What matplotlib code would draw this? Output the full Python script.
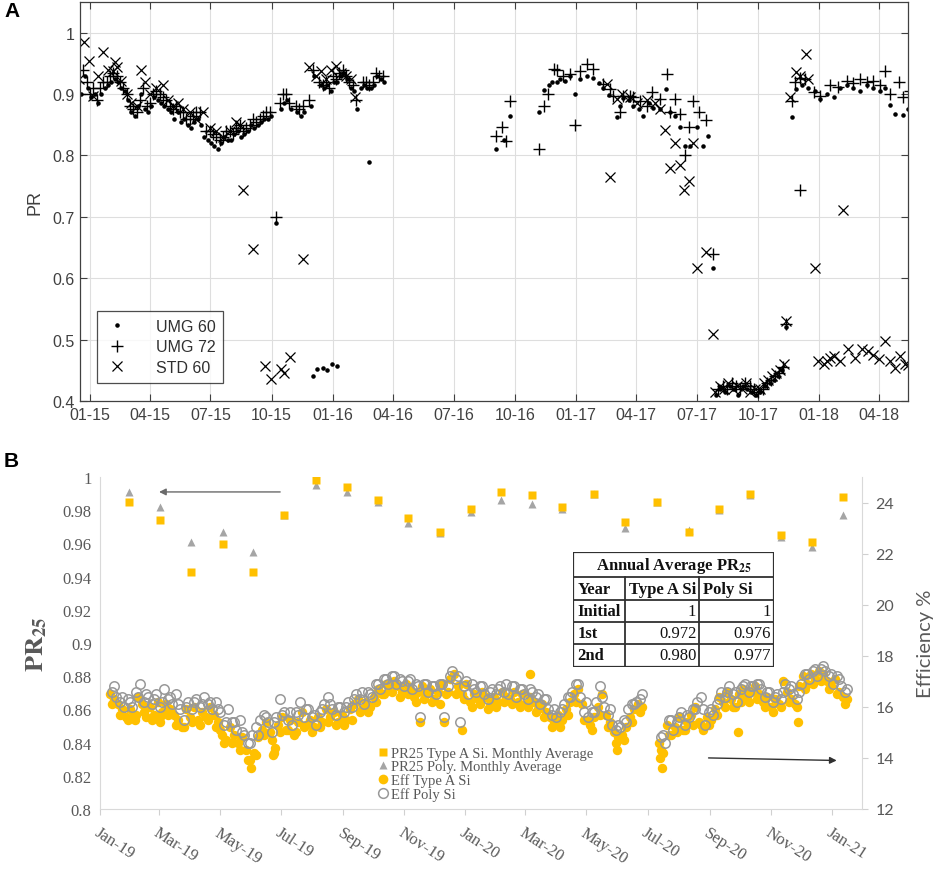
import numpy as np
import pandas as pd
import matplotlib
matplotlib.use('Agg')
import matplotlib.pyplot as plt
import matplotlib.dates as mdates
from matplotlib.lines import Line2D
from matplotlib.patches import Rectangle

plt.rcParams['font.family'] = 'Liberation Sans'
plt.rcParams['mathtext.fontset'] = 'stix'

# ---------------- panel A: PR, days counted from 01-Jan-2015 ----------------
umg60_day = [-14, -8, -3, 2, 7, 12, 17, 22, 27, 32, 37, 42, 47, 52, 57, 62, 67, 72, 77, 82,
             87, 92, 97, 102, 107, 112, 117, 122, 127, 132, 137, 142, 147, 152, 157, 162, 167,
             172, 177, 182, 187, 192, 197, 202, 207, 212, 217, 222, 227, 232, 237, 242, 247,
             252, 257, 262, 267, 272, 280, 287, 292, 297, 302, 312, 317, 322, 332, 337, 347,
             352, 357, 362, 367, 372, 377, 382, 387, 392, 397, 402, 407, 412, 417, 420, 422,
             427, 432, 437, 442,
             335, 342, 350, 357, 364, 372,
             610, 622, 632, 675, 682, 690, 695, 702, 707, 715, 722, 730, 737, 747, 757, 765,
             772, 780, 792, 797, 802, 810, 817, 825, 832, 840, 847, 857, 866, 872, 880, 887,
             895, 902, 912, 922, 930, 937,
             942, 948, 955, 962, 968, 975, 982, 988, 995, 1002, 1008, 1015, 1022, 1028, 1034,
             1040, 1047,
             1055, 1062, 1070, 1080, 1090, 1098, 1108, 1118, 1128, 1138, 1148, 1158, 1168,
             1178, 1188, 1196, 1203, 1211, 1223, 1230]
umg60_pr = [0.90, 0.93, 0.91, 0.895, 0.90, 0.885, 0.90, 0.91, 0.915, 0.92,
            0.925, 0.92, 0.91, 0.905, 0.89, 0.87, 0.865, 0.88, 0.90, 0.875,
            0.87, 0.88, 0.895, 0.89, 0.885, 0.88, 0.875, 0.87, 0.86, 0.87,
            0.855, 0.86, 0.85, 0.845, 0.855, 0.86, 0.85, 0.83, 0.825, 0.82,
            0.815, 0.81, 0.82, 0.83, 0.825, 0.825, 0.835, 0.84, 0.83, 0.835,
            0.84, 0.85, 0.845, 0.85, 0.855, 0.86, 0.86, 0.865, 0.69, 0.875,
            0.885, 0.89, 0.875, 0.87, 0.865, 0.87, 0.88, 0.93, 0.915, 0.91,
            0.915, 0.905, 0.92, 0.92, 0.93, 0.935, 0.925, 0.91, 0.905, 0.875,
            0.91, 0.915, 0.91, 0.79, 0.91, 0.915, 0.93, 0.925, 0.92,
            0.44, 0.452, 0.454, 0.451, 0.46, 0.457,
            0.811, 0.825, 0.865, 0.87, 0.907, 0.915, 0.919, 0.92, 0.924, 0.922,
            0.93, 0.90, 0.925, 0.929, 0.927, 0.918, 0.91, 0.898, 0.862, 0.88,
            0.893, 0.89, 0.88, 0.875, 0.865, 0.885, 0.878, 0.875, 0.909, 0.87,
            0.865, 0.847, 0.816, 0.816, 0.846, 0.816, 0.832, 0.617,
            0.41, 0.42, 0.415, 0.425, 0.42, 0.41, 0.425, 0.42, 0.415, 0.41, 0.415, 0.425,
            0.43, 0.435, 0.44, 0.45, 0.52,
            0.862, 0.908, 0.915, 0.91, 0.905, 0.892, 0.90, 0.895, 0.91, 0.915,
            0.91, 0.905, 0.915, 0.91, 0.905, 0.91, 0.882, 0.867, 0.866, 0.876]

umg72_day = [-16, -10, -5, 0, 5, 10, 15, 20, 25, 30, 35, 40, 45, 50, 55, 60, 65, 70, 75, 80,
             85, 90, 95, 100, 105, 110, 115, 120, 125, 130, 135, 140, 145, 150, 155, 160, 165,
             175, 180, 185, 190, 195, 200, 205, 210, 215, 220, 225, 230, 235, 240, 245, 250,
             255, 260, 265, 270, 279, 285, 290, 295, 300, 310, 315, 320, 330, 335, 345, 350,
             355, 360, 365, 370, 375, 380, 385, 390, 395, 400, 410, 415, 420, 425, 430, 435, 440,
             611, 619, 626, 632, 675, 682, 688, 697, 702, 712, 722, 730, 737, 747, 757, 772,
             782, 787, 797, 802, 812, 817, 827, 837, 845, 857, 867, 872, 880, 887, 895, 900,
             907, 915, 927, 937,
             945, 952, 958, 965, 972, 978, 985, 992, 998, 1005, 1012, 1018, 1024, 1030, 1036,
             1042, 1047,
             1055, 1060, 1067, 1067, 1075, 1088, 1098, 1113, 1125, 1138, 1148, 1158, 1168,
             1178, 1188, 1196, 1203, 1216, 1223, 1233]
umg72_pr = [0.90, 0.94, 0.92, 0.90, 0.91,
            0.89, 0.91, 0.92, 0.92, 0.93, 0.935, 0.93, 0.92, 0.91, 0.90,
            0.88, 0.875, 0.87, 0.89, 0.91, 0.88, 0.885, 0.90, 0.905, 0.90,
            0.895, 0.89, 0.88, 0.875, 0.88, 0.87, 0.87, 0.86, 0.86, 0.865,
            0.87, 0.87,
            0.84, 0.84, 0.835, 0.83, 0.825, 0.83, 0.84, 0.84, 0.835, 0.845,
            0.85, 0.84, 0.845, 0.85, 0.86, 0.855, 0.86, 0.865, 0.87, 0.87,
            0.70, 0.885, 0.90, 0.90, 0.885, 0.88, 0.875, 0.88, 0.89, 0.94,
            0.92, 0.915, 0.92, 0.91, 0.93, 0.925, 0.935, 0.94, 0.93, 0.92, 0.915, 0.89,
            0.92, 0.92, 0.915, 0.92, 0.935, 0.93, 0.93,
            0.831, 0.846, 0.824, 0.889, 0.81, 0.881, 0.90, 0.941, 0.94, 0.93,
            0.932, 0.849, 0.938, 0.949, 0.941, 0.916, 0.908, 0.897, 0.87, 0.897,
            0.897, 0.895, 0.889, 0.881, 0.903, 0.892, 0.933, 0.87, 0.892, 0.867,
            0.80, 0.846, 0.889, 0.87, 0.857, 0.639,
            0.42, 0.425, 0.42, 0.43, 0.425, 0.42, 0.43, 0.425, 0.42, 0.415, 0.42, 0.43,
            0.435, 0.44, 0.445, 0.455, 0.525,
            0.889, 0.919, 0.927, 0.743, 0.925, 0.903, 0.897, 0.914, 0.912, 0.922,
            0.918, 0.924, 0.92, 0.922, 0.915, 0.938, 0.90, 0.919, 0.895, 0.905]

std60_day = [-16, -9, -1, 5, 12, 20, 27, 35, 37, 40, 47, 55, 62, 70, 77, 82, 90, 100, 110, 117,
             125, 132, 140, 150, 160, 170, 180, 190, 200, 210, 220, 225, 230, 245, 263, 272,
             287, 292, 301, 320, 329, 340, 347, 355, 362, 370, 377, 385, 392, 399,
             777, 782, 792, 800, 812, 822, 837, 850, 857, 864, 872, 880, 887, 893, 901, 907,
             913, 927, 937,
             940, 947, 953, 960, 967, 973, 980, 987, 993, 1000, 1007, 1013, 1020, 1026, 1032,
             1038, 1044, 1047,
             1052, 1061, 1068, 1076, 1080, 1090, 1095, 1103, 1108, 1113, 1118, 1128, 1133,
             1140, 1150, 1161, 1170, 1178, 1186, 1196, 1203, 1211, 1218, 1226, 1230]
std60_pr = [0.924, 0.985, 0.954, 0.897, 0.93, 0.968, 0.94, 0.938, 0.952, 0.944,
            0.922, 0.90, 0.885, 0.88, 0.939, 0.919, 0.90, 0.91, 0.914, 0.89,
            0.88, 0.885, 0.875, 0.87, 0.86, 0.87, 0.845, 0.84, 0.83, 0.84,
            0.855, 0.85, 0.743, 0.648, 0.457, 0.436, 0.452, 0.446, 0.472, 0.631,
            0.944, 0.93, 0.938, 0.925, 0.94, 0.945, 0.935, 0.93, 0.925, 0.895,
            0.916, 0.765, 0.892, 0.90, 0.895, 0.885, 0.89, 0.885, 0.876, 0.842,
            0.78, 0.82, 0.785, 0.744, 0.759, 0.82, 0.617, 0.642, 0.509,
            0.415, 0.425, 0.42, 0.43, 0.42, 0.425, 0.42, 0.43, 0.415, 0.42, 0.42, 0.43,
            0.435, 0.44, 0.445, 0.45, 0.46, 0.53,
            0.895, 0.936, 0.93, 0.965, 0.925, 0.617, 0.465, 0.46, 0.465, 0.47,
            0.473, 0.465, 0.711, 0.485, 0.47, 0.484, 0.482, 0.475, 0.468, 0.498,
            0.465, 0.454, 0.473, 0.46, 0.459]

# ---------------- panel B: monthly PR25 and daily efficiency ----------------
month_dates = ['2019-01-30', '2019-03-02', '2019-04-02', '2019-05-04', '2019-06-03',
               '2019-07-04', '2019-08-05', '2019-09-05', '2019-10-06', '2019-11-05',
               '2019-12-07', '2020-01-07', '2020-02-06', '2020-03-08', '2020-04-07',
               '2020-05-09', '2020-06-09', '2020-07-10', '2020-08-11', '2020-09-10',
               '2020-10-11', '2020-11-11', '2020-12-12', '2021-01-12']
pr25_type_a = [0.985, 0.974, 0.943, 0.9595, 0.943, 0.977, 0.998, 0.994, 0.986, 0.9755,
               0.967, 0.981, 0.991, 0.989, 0.982, 0.990, 0.973, 0.985, 0.967, 0.981,
               0.990, 0.965, 0.961, 0.988]
pr25_poly = [0.991, 0.982, 0.961, 0.967, 0.955, 0.977, 0.995, 0.991, 0.985, 0.972,
             0.966, 0.979, 0.986, 0.984, 0.981, 0.990, 0.969, 0.985, 0.968, 0.980,
             0.989, 0.964, 0.958, 0.977]

# efficiency %, readings every 4 days (part1 from 11-Jan-2019, part2 from 12-Jul-2020)
eff_a_part1 = [16.5, 16.3, 16.1, 15.9, 15.6, 15.9, 15.7, 16.4, 16.1, 15.6,
               16.0, 15.7, 16.2, 15.8, 16.1, 15.9, 15.7, 15.5, 15.2, 15.9,
               15.6, 16.0, 15.5, 15.8, 15.6, 16.0, 15.7, 15.4, 14.9, 14.7,
               15.2, 14.9, 14.6, 14.8, 14.3, 13.9, 14.2, 14.8, 15.1, 15.4,
               15.0, 14.2, 15.3, 15.6, 15.1, 15.5, 14.9, 15.4, 15.8, 15.3,
               15.5, 15.2, 15.6, 15.4, 15.9, 15.6, 15.8, 15.4, 15.7, 15.5,
               15.9, 16.1, 16.3, 15.9, 16.2, 16.0, 16.4, 16.7, 16.5, 16.9,
               16.7, 17.0, 16.8, 16.6, 16.9, 16.7, 16.4, 16.6, 16.8, 16.5,
               16.7, 16.3, 16.6, 16.9, 16.5, 17.1, 17.3, 16.8, 16.5, 16.9,
               16.2, 16.5, 16.3, 16.6, 16.4, 16.1, 16.4, 16.2, 16.6, 16.4,
               16.3, 16.6, 16.2, 16.5, 16.1, 16.4, 16.2, 15.9, 16.1, 15.8,
               15.6, 15.4, 15.7, 15.5, 15.9, 16.2, 16.5, 16.7, 16.1, 15.5,
               15.3, 15.6, 16.0, 16.5, 15.7, 15.4, 15.0, 14.8, 14.9, 15.2,
               15.6, 15.9, 16.1, 16.0]
eff_a_part2 = [14.6, 14.2, 15.3, 14.9, 15.2, 15.6, 15.1, 15.4, 15.7, 16.0,
               15.4, 15.1, 15.6, 15.5, 15.9, 16.4, 16.2, 16.6, 16.3, 16.0,
               16.5, 16.7, 16.4, 16.6, 16.8, 16.5, 16.2, 16.4, 16.0, 16.3,
               16.1, 17.0, 16.6, 16.3, 16.1, 16.8, 17.2, 16.9, 17.3, 17.1,
               17.4, 17.3, 17.0, 16.8, 17.1, 16.6, 16.4, 16.3]
# readings every 8 days (from 13-Jan-2019 and 14-Jul-2020)
eff_a_part1b = [16.1, 15.7, 15.5, 15.7, 15.8, 15.5, 15.6, 15.7, 15.3, 15.2,
                15.4, 15.3, 15.5, 15.2, 14.6, 14.6, 14.3, 13.9, 14.1, 14.9,
                14.7, 15.0, 15.1, 15.0, 15.2, 15.0, 15.2, 15.4, 15.3, 15.3,
                15.5, 15.8, 15.8, 16.2, 16.5, 16.6, 16.4, 16.5, 16.2, 16.3,
                16.2, 16.1, 16.6, 16.5, 16.3, 16.0, 16.1, 15.9, 16.0, 16.2,
                16.1, 16.0, 16.0, 15.8, 15.6, 15.2, 15.2, 15.7, 16.2, 15.5,
                15.1, 15.7, 15.2, 14.6, 14.7, 15.4, 15.8]
eff_a_part2b = [14.3, 14.9, 15.0, 15.1, 15.3, 15.3, 15.3, 15.7, 16.0, 16.0,
                16.2, 16.2, 16.3, 16.0, 15.8, 16.0, 16.2, 16.0, 16.7, 16.9,
                17.0, 16.7, 16.5, 16.1]
eff_a_extra_day = [35, 60, 120, 151, 173, 175, 320, 344, 362, 430, 517, 559, 561, 637, 697]
eff_a_extra = [15.5, 15.4, 15.1, 13.6, 14.1, 14.4, 15.4, 15.4, 15.1, 17.3, 14.3, 14.0, 13.6,
               15.0, 15.4]

# (part1 from 13-Jan-2019, part2 from 14-Jul-2020)
eff_poly_part1 = [16.6, 16.4, 16.2, 16.0, 16.3, 16.0, 16.6, 16.9, 16.2, 16.4,
                  16.1, 16.5, 16.0, 16.7, 16.3, 16.1, 16.5, 15.9, 15.5, 16.2,
                  15.9, 16.3, 16.0, 16.4, 16.1, 15.9, 16.2, 15.8, 15.3, 15.9,
                  15.4, 15.1, 15.5, 14.9, 14.6, 14.9, 15.2, 15.5, 15.7, 15.4,
                  15.0, 15.6, 16.3, 15.8, 15.5, 15.3, 15.8, 16.2, 15.6, 15.9,
                  15.6, 15.3, 15.8, 16.1, 16.4, 15.9, 15.7, 16.0, 15.8, 16.2,
                  16.0, 16.5, 16.3, 16.1, 16.6, 16.4, 16.9, 16.7, 17.1, 16.9,
                  17.2, 16.9, 17.1, 16.8, 17.0, 16.7, 16.9, 15.6, 16.9, 16.6,
                  16.8, 16.5, 16.9, 15.6, 16.8, 17.4, 17.1, 15.4, 16.8, 16.5,
                  16.9, 16.6, 16.8, 16.5, 16.3, 16.7, 16.5, 16.8, 16.6, 16.5,
                  16.8, 16.4, 16.7, 16.5, 16.3, 16.6, 16.4, 16.1, 16.3, 15.9,
                  15.7, 15.6, 15.8, 16.1, 16.4, 16.6, 16.9, 16.4, 15.8, 15.6,
                  15.8, 16.2, 16.8, 16.0, 15.7, 15.3, 15.1, 15.2, 15.5, 15.9,
                  16.1, 16.2, 16.3]
eff_poly_part2 = [14.8, 14.6, 15.5, 15.1, 15.4, 15.8, 15.3, 15.6, 15.9, 16.2,
                  16.4, 15.3, 15.8, 15.7, 16.1, 16.6, 16.4, 16.8, 16.5, 16.2,
                  16.7, 16.9, 16.6, 16.8, 16.9, 16.7, 16.4, 16.6, 16.2, 16.5,
                  16.3, 16.9, 16.7, 16.5, 16.3, 16.9, 17.3, 17.1, 17.4, 17.2,
                  17.5, 17.4, 17.2, 16.9, 17.2, 16.8, 16.6]
# (from 15-Jan-2019 and 16-Jul-2020, every 8 days)
eff_poly_part1b = [16.8, 16.4, 16.2, 16.4, 16.5, 16.3, 16.2, 16.4, 16.1, 16.0,
                   16.2, 16.1, 16.2, 15.9, 15.4, 15.4, 15.0, 14.6, 14.9, 15.6,
                   15.4, 15.7, 15.8, 15.7, 15.9, 15.7, 15.9, 16.1, 16.0, 16.0,
                   16.3, 16.6, 16.5, 16.9, 17.1, 17.2, 17.0, 17.1, 16.8, 16.9,
                   16.8, 16.9, 17.2, 17.2, 17.0, 16.7, 16.8, 16.6, 16.7, 16.9,
                   16.8, 16.7, 16.7, 16.5, 16.3, 15.9, 15.9, 16.4, 16.9, 16.2,
                   15.8, 16.4, 15.9, 15.3, 15.4, 16.1, 16.5]
eff_poly_part2b = [14.9, 15.5, 15.6, 15.7, 15.9, 15.9, 15.9, 16.3, 16.6, 16.6,
                   16.8, 16.8, 16.9, 16.6, 16.4, 16.6, 16.8, 16.6, 17.3, 17.5,
                   17.6, 17.3, 17.1, 16.7]

table_title = 'Annual Average PR$_{\\mathbf{25}}$'
table_header = ['Year', 'Type A Si', 'Poly Si']
table_years = ['Initial', '1st', '2nd']
table_type_a = ['1', '0.972', '0.980']
table_poly = ['1', '0.976', '0.977']

# arrow annotations: (start date, end date, level)
arrow_pr = ('2019-06-30', '2019-03-01', 0.991)
arrow_eff = ('2020-08-31', '2021-01-06', 14.0, 13.9)

grey_a = '#404040'
grey_b = '#595959'
orange = '#FFC000'

fig = plt.figure(figsize=(9.41, 8.70), dpi=100)

# ================= panel A =================
base_a = pd.Timestamp('2015-01-01')
t60 = base_a + pd.to_timedelta(umg60_day, unit='D')
t72 = base_a + pd.to_timedelta(umg72_day, unit='D')
tstd = base_a + pd.to_timedelta(std60_day, unit='D')

axA = fig.add_axes([80/941, 1-402/870, 828/941, 399/870])
axA.plot(t60, umg60_pr, '.', color='k', ms=4.5, label='UMG 60')
axA.plot(t72, umg72_pr, '+', color='k', ms=9, mew=1.0, label='UMG 72')
axA.plot(tstd, std60_pr, 'x', color='k', ms=7, mew=0.9, label='STD 60')
axA.set_xlim(pd.Timestamp('2014-12-17'), pd.Timestamp('2018-05-15'))
axA.set_ylim(0.4, 1.05)
axA.set_yticks([0.4, 0.5, 0.6, 0.7, 0.8, 0.9, 1.0])
axA.set_yticklabels(['0.4', '0.5', '0.6', '0.7', '0.8', '0.9', '1'])
axA.xaxis.set_major_locator(mdates.MonthLocator(bymonth=[1, 4, 7, 10]))
axA.xaxis.set_major_formatter(mdates.DateFormatter('%m-%y'))
axA.grid(True, color='#dedede', lw=0.8)
axA.set_axisbelow(True)
axA.tick_params(direction='in', top=True, right=True, length=5, width=0.8,
                color=grey_a, labelsize=11.5, labelcolor=grey_a, pad=4)
for s in axA.spines.values():
    s.set_color(grey_a)
    s.set_linewidth(0.9)
axA.set_ylabel('PR', fontsize=13, color=grey_a, labelpad=6)
legA = axA.legend(loc='lower left', bbox_to_anchor=(0.02, 0.045), fontsize=11.5,
                  frameon=True, fancybox=False, edgecolor='#202020', handlelength=1.6,
                  handletextpad=1.6, labelspacing=0.35, borderpad=0.5, borderaxespad=0)
legA.get_frame().set_linewidth(0.9)
for t in legA.get_texts():
    t.set_color('#303030')

# ================= panel B =================
base_b = pd.Timestamp('2019-01-01')
t_month = pd.to_datetime(month_dates)
t_a1 = pd.date_range('2019-01-11', periods=len(eff_a_part1), freq='4D')
t_a2 = pd.date_range('2020-07-12', periods=len(eff_a_part2), freq='4D')
t_a1b = pd.date_range('2019-01-13', periods=len(eff_a_part1b), freq='8D')
t_a2b = pd.date_range('2020-07-14', periods=len(eff_a_part2b), freq='8D')
t_ax = base_b + pd.to_timedelta(eff_a_extra_day, unit='D')
t_p1 = pd.date_range('2019-01-13', periods=len(eff_poly_part1), freq='4D')
t_p2 = pd.date_range('2020-07-14', periods=len(eff_poly_part2), freq='4D')
t_p1b = pd.date_range('2019-01-15', periods=len(eff_poly_part1b), freq='8D')
t_p2b = pd.date_range('2020-07-16', periods=len(eff_poly_part2b), freq='8D')

axB = fig.add_axes([100/941, 60/870, 761.7/941, 332/870])
axB2 = axB.twinx()

axB.plot(t_month, pr25_poly, '^', color='#A5A5A5', ms=5.5, mec='none', zorder=3)
axB.plot(t_month, pr25_type_a, 's', color=orange, ms=5.5, mec='none', zorder=4)

dot_kw = dict(ls='none', marker='o', ms=6.8)
for tt, vv in [(t_a1, eff_a_part1), (t_a2, eff_a_part2), (t_a1b, eff_a_part1b),
               (t_a2b, eff_a_part2b), (t_ax, eff_a_extra)]:
    axB2.plot(tt, vv, color=orange, mec='none', **dot_kw)
for tt, vv in [(t_p1, eff_poly_part1), (t_p2, eff_poly_part2),
               (t_p1b, eff_poly_part1b), (t_p2b, eff_poly_part2b)]:
    axB2.plot(tt, vv, mfc='none', mec='#999999', mew=1.1, **dot_kw)

axB.set_xlim(pd.Timestamp('2019-01-01'), pd.Timestamp('2021-01-31'))
axB.set_ylim(0.8, 1.0)
axB2.set_ylim(12, 25)
axB.set_yticks(np.arange(0.8, 1.001, 0.02))
axB.set_yticklabels(['0.8', '0.82', '0.84', '0.86', '0.88', '0.9', '0.92', '0.94',
                     '0.96', '0.98', '1'])
axB2.set_yticks(np.arange(12, 25, 2))
axB.xaxis.set_major_locator(mdates.MonthLocator(bymonth=[1, 3, 5, 7, 9, 11]))
axB.xaxis.set_major_formatter(mdates.DateFormatter('%b-%y'))

serif = 'Liberation Serif'
for lab in axB.get_xticklabels():
    lab.set_rotation(-33)
    lab.set_ha('left')
    lab.set_va('top')
    lab.set_rotation_mode('anchor')
    lab.set_family(serif)
    lab.set_fontsize(12)
    lab.set_color(grey_b)
for lab in axB.get_yticklabels():
    lab.set_family(serif)
    lab.set_fontsize(12)
    lab.set_color(grey_b)
for lab in axB2.get_yticklabels():
    lab.set_family('Lato')
    lab.set_fontsize(11.5)
    lab.set_color(grey_b)

axB.tick_params(axis='y', length=0, pad=6)
axB.tick_params(axis='x', length=4, color='#d0d0d0', pad=7)
axB2.tick_params(axis='y', length=4, color='#d0d0d0', pad=6)
axB.spines['top'].set_visible(False)
axB.spines['right'].set_visible(False)
axB.spines['left'].set_color('#d9d9d9')
axB.spines['bottom'].set_color('#d9d9d9')
axB2.spines['top'].set_visible(False)
axB2.spines['left'].set_visible(False)
axB2.spines['bottom'].set_visible(False)
axB2.spines['right'].set_color('#d9d9d9')

axB.set_ylabel(r'$\mathbf{PR}_{\mathbf{25}}$', fontsize=19, color=grey_b, labelpad=10)
axB2.set_ylabel('Efficiency %', family='Lato', fontsize=14.5, color=grey_b, labelpad=16)

axB.annotate('', xy=(pd.Timestamp(arrow_pr[1]), arrow_pr[2]),
             xytext=(pd.Timestamp(arrow_pr[0]), arrow_pr[2]),
             arrowprops=dict(arrowstyle='-|>', color='#6a6a6a', lw=1.0,
                             mutation_scale=10, shrinkA=0, shrinkB=0))
axB2.annotate('', xy=(pd.Timestamp(arrow_eff[1]), arrow_eff[3]),
              xytext=(pd.Timestamp(arrow_eff[0]), arrow_eff[2]),
              arrowprops=dict(arrowstyle='-|>', color='#303030', lw=1.0,
                              mutation_scale=10, shrinkA=0, shrinkB=0))

handles = [Line2D([], [], ls='none', marker='s', color=orange, mec='none', ms=6),
           Line2D([], [], ls='none', marker='^', color='#A5A5A5', mec='none', ms=6),
           Line2D([], [], ls='none', marker='o', color=orange, mec='none', ms=7),
           Line2D([], [], ls='none', marker='o', mfc='none', mec='#999999', mew=1.1, ms=7)]
labels = ['PR25 Type A Si. Monthly Average', 'PR25 Poly. Monthly Average',
          'Eff Type A Si', 'Eff Poly Si']
legB = axB2.legend(handles, labels, loc='lower left', bbox_to_anchor=(0.365, 0.025),
                   frameon=False, prop={'family': serif, 'size': 10.5},
                   handlelength=0.7, handletextpad=0.2, labelspacing=0.0,
                   borderaxespad=0, borderpad=0)
for t in legB.get_texts():
    t.set_color(grey_b)

# ---- inset table ----
tb = fig.add_axes([573.3/941, 1-667.7/870, 201/941, 114.4/870])
tb.set_xlim(0, 1)
tb.set_ylim(0, 1)
tb.axis('off')
tb.add_patch(Rectangle((0, 0), 1, 1, facecolor='white', edgecolor='#303030', lw=1.6))
row_y = [1, 0.782, 0.585, 0.393, 0.198, 0]
col_x = [0, 0.257, 0.627, 1]
for y in row_y[1:-1]:
    tb.plot([0, 1], [y, y], color='#303030', lw=1.3)
for x in col_x[1:-1]:
    tb.plot([x, x], [0, row_y[1]], color='#303030', lw=1.3)
tfont = dict(family=serif, fontsize=12, color='#111111')
tb.text(0.5, (row_y[0]+row_y[1])/2, table_title, ha='center', va='center',
        fontweight='bold', **tfont)
ymid = (row_y[1]+row_y[2])/2
for j, h in enumerate(table_header):
    tb.text(col_x[j]+0.02, ymid, h, ha='left', va='center', fontweight='bold', **tfont)
for i in range(len(table_years)):
    ymid = (row_y[i+2]+row_y[i+3])/2
    tb.text(col_x[0]+0.02, ymid, table_years[i], ha='left', va='center',
            fontweight='bold', **tfont)
    tb.text(col_x[2]-0.015, ymid, table_type_a[i], ha='right', va='center', **tfont)
    tb.text(col_x[3]-0.015, ymid, table_poly[i], ha='right', va='center', **tfont)

fig.text(4/941, 1-2/870, 'A', fontsize=15, fontweight='bold', va='top', ha='left')
fig.text(4/941, 1-452/870, 'B', fontsize=15, fontweight='bold', va='top', ha='left')

fig.savefig('out.png', dpi=100)
